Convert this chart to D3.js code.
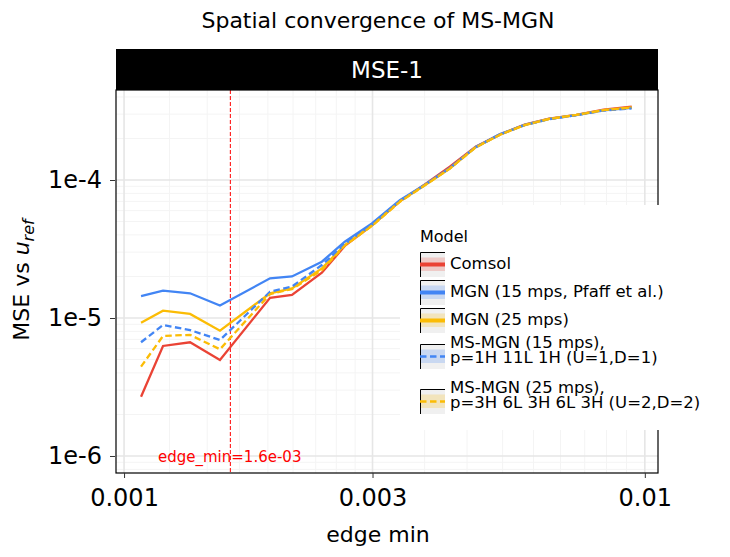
<!DOCTYPE html>
<html>
<head>
<meta charset="utf-8">
<script src="https://cdn.jsdelivr.net/npm/d3@7"></script>
<style>
	body { margin: 0; background: #fff; }
	text { font-family: 'DejaVu Sans', sans-serif; }
</style>
</head>
<body>
<svg class="chart"></svg>
<script>
// mesh sizes (edge min) and MSE of each model
const edgeMin = [1.078e-3, 1.188e-3, 1.339e-3, 1.528e-3, 1.907e-3, 2.101e-3, 2.398e-3, 2.654e-3, 2.992e-3, 3.385e-3,
	3.780e-3, 4.222e-3, 4.732e-3, 5.272e-3, 5.876e-3, 6.550e-3, 7.389e-3, 8.333e-3, 9.437e-3];
const comsol = [2.69e-6, 6.27e-6, 6.67e-6, 4.97e-6, 1.40e-5, 1.47e-5, 2.13e-5, 3.33e-5, 4.70e-5, 7.0e-5,
	9.3e-5, 1.25e-4, 1.74e-4, 2.14e-4, 2.52e-4, 2.78e-4, 2.97e-4, 3.24e-4, 3.40e-4];
const mgn15 = [1.44e-5, 1.58e-5, 1.51e-5, 1.23e-5, 1.94e-5, 2.0e-5, 2.56e-5, 3.57e-5, 4.85e-5, 7.15e-5,
	9.25e-5, 1.22e-4, 1.73e-4, 2.15e-4, 2.51e-4, 2.77e-4, 2.95e-4, 3.20e-4, 3.33e-4];
const mgn25 = [9.25e-6, 1.13e-5, 1.07e-5, 8.09e-6, 1.51e-5, 1.64e-5, 2.29e-5, 3.38e-5, 4.68e-5, 7.0e-5,
	9.15e-5, 1.21e-4, 1.73e-4, 2.13e-4, 2.50e-4, 2.77e-4, 2.96e-4, 3.21e-4, 3.36e-4];
const msmgn15 = [6.67e-6, 8.89e-6, 8.18e-6, 6.93e-6, 1.55e-5, 1.69e-5, 2.42e-5, 3.44e-5, 4.75e-5, 7.05e-5,
	9.2e-5, 1.22e-4, 1.73e-4, 2.14e-4, 2.50e-4, 2.76e-4, 2.95e-4, 3.19e-4, 3.30e-4];
const msmgn25 = [4.44e-6, 7.41e-6, 7.55e-6, 5.93e-6, 1.49e-5, 1.62e-5, 2.22e-5, 3.35e-5, 4.65e-5, 6.95e-5,
	9.15e-5, 1.21e-4, 1.72e-4, 2.13e-4, 2.50e-4, 2.77e-4, 2.96e-4, 3.21e-4, 3.35e-4];

const modelLabels = [
	['Comsol'],
	['MGN (15 mps, Pfaff et al.)'],
	['MGN (25 mps)'],
	['MS-MGN (15 mps),', 'p=1H 11L 1H (U=1,D=1)'],
	['MS-MGN (25 mps),', 'p=3H 6L 3H 6L 3H (U=2,D=2)']
];
const xTicks = [0.001, 0.003, 0.01];
const xTickLabels = ['0.001', '0.003', '0.01'];
const yTicks = [1e-6, 1e-5, 1e-4];
const yTickLabels = ['1e-6', '1e-5', '1e-4'];
const edgeMinLine = 1.6e-3;

const svg = d3.select('.chart')
	.attr('width', 730)
	.attr('height', 557);

const series = [
	{ values: comsol, color: '#EA4335', dash: null },
	{ values: mgn15, color: '#4285F4', dash: null },
	{ values: mgn25, color: '#FBBC05', dash: null },
	{ values: msmgn15, color: '#4285F4', dash: '6.5,3.5' },
	{ values: msmgn25, color: '#FBBC05', dash: '6.5,3.5' }
];
series.forEach((s, i) => { s.label = modelLabels[i]; });

const panel = { left: 116, right: 658, top: 90, bottom: 473 };

const xScale = d3.scaleLog()
	.domain([0.000965, 0.0106])
	.range([panel.left, panel.right]);

const yScale = d3.scaleLog()
	.domain([7.53e-7, 4.49e-4])
	.range([panel.bottom, panel.top]);

// minor breaks: 8 evenly spaced values between neighbouring majors
const minorBetween = majors => {
	const out = [];
	for (let i = 0; i < majors.length - 1; i++) {
		const a = majors[i], b = majors[i + 1];
		for (let k = 1; k < 9; k++) out.push(a + (b - a) * k / 9);
	}
	return out;
};
const xMinor = minorBetween([0.0003, ...xTicks, 0.03])
	.filter(v => v > xScale.domain()[0] && v < xScale.domain()[1]);
const yMinor = minorBetween([1e-7, ...yTicks, 1e-3])
	.filter(v => v > yScale.domain()[0] && v < yScale.domain()[1]);

const g = svg.append('g');

// grid
g.append('g').selectAll('line')
	.data(xMinor)
	.enter().append('line')
		.attr('x1', d => xScale(d)).attr('x2', d => xScale(d))
		.attr('y1', panel.top).attr('y2', panel.bottom)
		.attr('stroke', '#f4f4f4').attr('stroke-width', 1);
g.append('g').selectAll('line')
	.data(yMinor)
	.enter().append('line')
		.attr('y1', d => yScale(d)).attr('y2', d => yScale(d))
		.attr('x1', panel.left).attr('x2', panel.right)
		.attr('stroke', '#f4f4f4').attr('stroke-width', 1);
g.append('g').selectAll('line')
	.data(xTicks)
	.enter().append('line')
		.attr('x1', d => xScale(d)).attr('x2', d => xScale(d))
		.attr('y1', panel.top).attr('y2', panel.bottom)
		.attr('stroke', '#e6e6e6').attr('stroke-width', 1.6);
g.append('g').selectAll('line')
	.data(yTicks)
	.enter().append('line')
		.attr('y1', d => yScale(d)).attr('y2', d => yScale(d))
		.attr('x1', panel.left).attr('x2', panel.right)
		.attr('stroke', '#e6e6e6').attr('stroke-width', 1.6);

// edge_min marker
g.append('line')
	.attr('x1', xScale(edgeMinLine)).attr('x2', xScale(edgeMinLine))
	.attr('y1', panel.top).attr('y2', panel.bottom)
	.attr('stroke', 'red').attr('stroke-width', 1)
	.attr('stroke-dasharray', '4,2');

g.append('text')
	.attr('x', 158)
	.attr('y', 462)
	.attr('fill', 'red')
	.attr('font-size', 15)
	.text('edge_min=' + d3.format('.1e')(edgeMinLine).replace('e-3', 'e-03'));

// model lines
const line = d3.line()
	.x((d, i) => xScale(edgeMin[i]))
	.y(d => yScale(d));

g.append('g').selectAll('path')
	.data(series)
	.enter().append('path')
		.attr('d', d => line(d.values))
		.attr('fill', 'none')
		.attr('stroke', d => d.color)
		.attr('stroke-width', 2.3)
		.attr('stroke-dasharray', d => d.dash);

// panel border
g.append('rect')
	.attr('x', panel.left).attr('y', panel.top)
	.attr('width', panel.right - panel.left).attr('height', panel.bottom - panel.top)
	.attr('fill', 'none').attr('stroke', '#000').attr('stroke-width', 1.2);

// facet strip
g.append('rect')
	.attr('x', panel.left).attr('y', 49)
	.attr('width', panel.right - panel.left).attr('height', 41)
	.attr('fill', '#000');
g.append('text')
	.attr('x', (panel.left + panel.right) / 2)
	.attr('y', 78)
	.attr('text-anchor', 'middle')
	.attr('fill', '#fff')
	.attr('font-size', 23)
	.text('MSE-1');

// axes
const xAxis = d3.axisBottom(xScale)
	.tickValues(xTicks)
	.tickFormat((d, i) => xTickLabels[i])
	.tickSize(5)
	.tickPadding(11);
const xAxisG = g.append('g').call(xAxis)
	.attr('transform', `translate(0, ${panel.bottom})`);
xAxisG.select('.domain').remove();
xAxisG.selectAll('text')
	.attr('font-size', 24)
	.attr('font-family', 'DejaVu Sans')
	.attr('fill', '#000');
xAxisG.selectAll('line').attr('stroke', '#333');

const yAxis = d3.axisLeft(yScale)
	.tickValues(yTicks)
	.tickFormat((d, i) => yTickLabels[i])
	.tickSize(5)
	.tickPadding(8);
const yAxisG = g.append('g').call(yAxis)
	.attr('transform', `translate(${panel.left - 1}, 0)`);
yAxisG.select('.domain').remove();
yAxisG.selectAll('text')
	.attr('font-size', 24)
	.attr('font-family', 'DejaVu Sans')
	.attr('fill', '#000');
yAxisG.selectAll('line').attr('stroke', '#333');

// titles
svg.append('text')
	.attr('x', 378).attr('y', 28)
	.attr('text-anchor', 'middle')
	.attr('font-size', 22)
	.text('Spatial convergence of MS-MGN');

svg.append('text')
	.attr('x', 378).attr('y', 542)
	.attr('text-anchor', 'middle')
	.attr('font-size', 22)
	.text('edge min');

const yTitle = svg.append('text')
	.attr('transform', 'translate(29, 280) rotate(-90)')
	.attr('text-anchor', 'middle')
	.attr('font-size', 22);
yTitle.append('tspan').text('MSE vs ');
yTitle.append('tspan').attr('font-style', 'italic').text('u');
yTitle.append('tspan').attr('font-style', 'italic').attr('font-size', 16).attr('dy', 5).text('ref');

// legend
const legend = svg.append('g');
legend.append('rect')
	.attr('x', 400).attr('y', 205)
	.attr('width', 340).attr('height', 225)
	.attr('fill', '#fff');
legend.append('text')
	.attr('x', 420).attr('y', 242)
	.attr('font-size', 16)
	.text('Model');

const keyTops = [252, 280, 308, 344, 389];
const keyTextY = [269, 297, 325, 348, 393];

const keys = legend.selectAll('.key')
	.data(series)
	.enter().append('g')
		.attr('class', 'key')
		.attr('transform', (d, i) => `translate(420, ${keyTops[i]})`);

keys.append('rect')
	.attr('width', 25).attr('height', 25)
	.attr('fill', '#f0f0f0');
keys.append('rect')
	.attr('y', 5.5).attr('width', 25).attr('height', 13.5)
	.attr('fill', d => d.color)
	.attr('fill-opacity', 0.22);
keys.append('path')
	.attr('d', 'M0.5,25V0.5H25')
	.attr('fill', 'none')
	.attr('stroke', '#000')
	.attr('stroke-width', 1);
keys.append('line')
	.attr('x1', 0).attr('x2', 25)
	.attr('y1', 12.5).attr('y2', 12.5)
	.attr('stroke', d => d.color)
	.attr('stroke-width', d => d.dash ? 2.3 : 4)
	.attr('stroke-dasharray', d => d.dash);

keys.append('text')
	.attr('x', 30)
	.attr('y', (d, i) => keyTextY[i] - keyTops[i])
	.attr('font-size', 16.5)
	.selectAll('tspan')
	.data(d => d.label)
	.enter().append('tspan')
		.attr('x', 30)
		.attr('dy', (d, j) => j === 0 ? 0 : 14.5)
		.text(d => d);
</script>
</body>
</html>
